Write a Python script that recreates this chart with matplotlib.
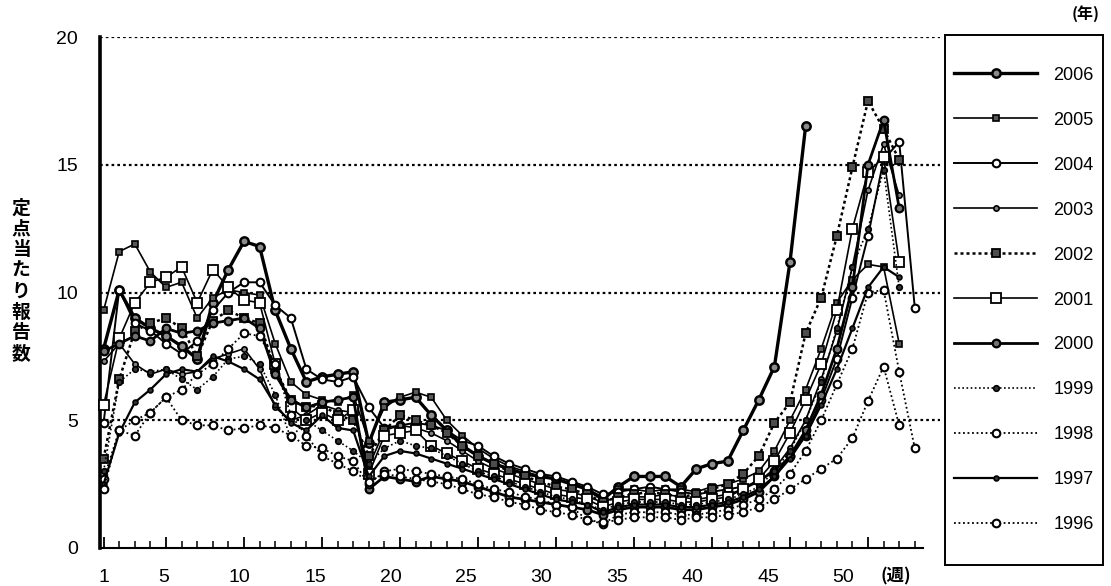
import matplotlib
matplotlib.use("Agg")
import matplotlib.pyplot as plt
from matplotlib.lines import Line2D
import matplotlib.transforms as mtransforms

plt.rcParams['font.family'] = ['Liberation Sans', 'Noto Sans CJK JP', 'DejaVu Sans']

years = ['2006', '2005', '2004', '2003', '2002', '2001', '2000', '1999', '1998', '1997', '1996']

v2006 = [7.8, 10.1, 9.0, 8.6, 8.3, 7.9, 7.4, 9.6, 10.9, 12.0, 11.8, 9.3, 7.8, 6.5, 6.7, 6.8, 6.9, 4.1, 5.7, 5.8,
         5.9, 5.2, 4.6, 4.0, 3.6, 3.3, 3.1, 2.9, 2.8, 2.7, 2.5, 2.3, 1.9, 2.4, 2.8, 2.8, 2.8, 2.4, 3.1, 3.3,
         3.4, 4.6, 5.8, 7.1, 11.2, 16.5]
v2005 = [9.3, 11.6, 11.9, 10.8, 10.2, 10.4, 9.0, 9.8, 10.1, 10.0, 9.9, 8.0, 6.5, 6.0, 5.8, 5.7, 6.0, 4.2, 5.5, 5.9,
         6.1, 5.9, 5.0, 4.4, 3.9, 3.5, 3.2, 3.0, 2.8, 2.7, 2.5, 2.3, 2.0, 2.3, 2.3, 2.2, 2.3, 2.3, 2.2, 2.4,
         2.5, 2.7, 3.0, 3.8, 5.0, 6.2, 7.8, 9.6, 10.5, 11.1, 11.0, 8.0]
v2004 = [4.9, 10.1, 8.8, 8.5, 8.0, 7.6, 8.1, 9.3, 10.0, 10.4, 10.4, 9.5, 9.0, 7.0, 6.6, 6.5, 6.7, 5.5, 4.7, 4.8,
         4.9, 4.8, 4.6, 4.2, 4.0, 3.6, 3.3, 3.1, 2.9, 2.8, 2.6, 2.4, 2.1, 2.2, 2.3, 2.4, 2.3, 2.2, 2.1, 2.2,
         2.3, 2.4, 2.6, 3.0, 3.6, 4.4, 5.8, 7.4, 9.8, 12.2, 15.2, 15.9, 9.4]
v2003 = [7.3, 8.0, 7.2, 6.8, 7.0, 6.8, 6.9, 7.4, 7.6, 7.8, 7.0, 5.5, 5.0, 5.2, 5.6, 5.4, 5.3, 3.2, 4.6, 4.8,
         4.7, 4.5, 4.2, 3.8, 3.4, 3.1, 2.9, 2.7, 2.5, 2.3, 2.2, 2.0, 1.8, 2.0, 2.0, 2.0, 2.1, 2.0, 1.9, 2.0,
         2.1, 2.3, 2.6, 3.1, 3.9, 5.0, 6.6, 8.5, 11.0, 14.0, 15.8, 13.8]
v2002 = [3.5, 6.6, 8.5, 8.8, 9.0, 8.6, 7.5, 8.9, 9.3, 9.0, 8.8, 7.0, 5.8, 5.5, 5.6, 5.2, 5.0, 3.6, 4.6, 5.2,
         5.0, 4.8, 4.5, 4.0, 3.6, 3.3, 3.0, 2.8, 2.6, 2.4, 2.3, 2.1, 1.8, 2.0, 2.1, 2.2, 2.1, 2.0, 2.1, 2.3,
         2.5, 2.9, 3.6, 4.9, 5.7, 8.4, 9.8, 12.2, 14.9, 17.5, 16.4, 15.2]
v2001 = [5.6, 8.2, 9.6, 10.4, 10.6, 11.0, 9.6, 10.9, 10.2, 9.7, 9.6, 7.2, 5.5, 5.0, 5.3, 5.0, 5.4, 2.9, 4.4, 4.5,
         4.6, 4.0, 3.7, 3.4, 3.1, 2.9, 2.7, 2.5, 2.3, 2.1, 2.0, 1.9, 1.6, 1.8, 1.9, 1.9, 1.9, 1.8, 1.8, 1.9,
         2.0, 2.3, 2.7, 3.4, 4.5, 5.8, 7.2, 9.3, 12.5, 14.7, 15.3, 11.2]
v2000 = [7.7, 8.0, 8.3, 8.1, 8.6, 8.4, 8.5, 8.8, 8.9, 9.0, 8.6, 6.8, 5.8, 5.5, 5.7, 5.8, 5.9, 2.3, 2.8, 2.7,
         2.6, 2.8, 2.7, 2.6, 2.4, 2.2, 2.0, 1.9, 1.8, 1.7, 1.6, 1.5, 1.3, 1.5, 1.6, 1.6, 1.6, 1.5, 1.5, 1.6,
         1.7, 1.9, 2.2, 2.8, 3.6, 4.6, 6.0, 7.8, 10.2, 15.0, 16.75, 13.3]
v1999 = [3.0, 6.5, 7.0, 6.9, 7.0, 6.6, 6.2, 6.7, 7.4, 7.5, 7.2, 6.0, 4.3, 5.0, 4.6, 4.2, 3.8, 3.3, 3.9, 4.2,
         4.0, 3.9, 3.6, 3.3, 3.0, 2.8, 2.6, 2.4, 2.2, 2.0, 1.9, 1.7, 1.5, 1.7, 1.8, 1.8, 1.8, 1.7, 1.7, 1.8,
         1.9, 2.1, 2.4, 3.0, 3.8, 5.0, 6.5, 8.6, 11.0, 12.5, 14.8, 10.2]
v1998 = [2.7, 4.6, 4.4, 5.3, 5.9, 5.0, 4.8, 4.8, 4.6, 4.7, 4.8, 4.7, 4.4, 4.0, 3.9, 3.6, 3.4, 2.5, 3.0, 3.1,
         3.0, 2.9, 2.8, 2.7, 2.5, 2.3, 2.2, 2.0, 1.9, 1.7, 1.6, 1.1, 0.95, 1.3, 1.4, 1.4, 1.4, 1.3, 1.3, 1.4,
         1.5, 1.7, 1.9, 2.3, 2.9, 3.8, 5.0, 6.4, 7.8, 10.0, 10.1, 6.9, 3.9]
v1997 = [2.5, 4.5, 5.7, 6.2, 6.8, 7.0, 6.9, 7.5, 7.3, 7.0, 6.6, 5.6, 4.9, 4.6, 5.2, 4.7, 4.6, 2.8, 3.6, 3.8,
         3.7, 3.5, 3.3, 3.1, 2.9, 2.7, 2.5, 2.3, 2.1, 1.9, 1.8, 1.7, 1.4, 1.6, 1.7, 1.7, 1.7, 1.6, 1.6, 1.7,
         1.8, 2.0, 2.3, 2.8, 3.5, 4.4, 5.6, 7.0, 8.6, 10.2, 11.0, 10.6]
v1996 = [2.3, 4.6, 5.0, 5.3, 5.9, 6.2, 6.8, 7.2, 7.8, 8.4, 8.3, 7.2, 5.2, 4.4, 3.6, 3.3, 3.0, 2.6, 2.9, 2.8,
         2.7, 2.6, 2.5, 2.3, 2.1, 2.0, 1.8, 1.7, 1.5, 1.4, 1.3, 1.1, 1.0, 1.1, 1.2, 1.2, 1.2, 1.1, 1.2, 1.2,
         1.3, 1.4, 1.6, 1.9, 2.3, 2.7, 3.1, 3.5, 4.3, 5.75, 7.1, 4.8]

series = [v2006, v2005, v2004, v2003, v2002, v2001, v2000, v1999, v1998, v1997, v1996]

xtick_labels = ['1', '5', '10', '15', '20', '25', '30', '35', '40', '45', '50']
ytick_values = [0, 5, 10, 15, 20]

styles = {
    '2006': dict(ls='-', lw=2.4, marker='o', ms=6, mfc='0.55', mew=1.8),
    '2005': dict(ls='-', lw=1.2, marker='s', ms=4.5, mfc='0.35', mew=1.2),
    '2004': dict(ls='-', lw=1.4, marker='o', ms=5.5, mfc='white', mew=1.5),
    '2003': dict(ls='-', lw=1.2, marker='o', ms=3.8, mfc='0.5', mew=1.2),
    '2002': dict(ls=(0, (1.2, 1.2)), lw=1.8, marker='s', ms=5.5, mfc='0.3', mew=1.3),
    '2001': dict(ls='-', lw=1.2, marker='s', ms=7, mfc='white', mew=1.3),
    '2000': dict(ls='-', lw=2.0, marker='o', ms=5.5, mfc='0.45', mew=1.6),
    '1999': dict(ls=(0, (1, 1.5)), lw=1.2, marker='o', ms=4, mfc='0.2', mew=1.2),
    '1998': dict(ls=(0, (1, 1.5)), lw=1.3, marker='o', ms=5.5, mfc='white', mew=1.5),
    '1997': dict(ls='-', lw=1.6, marker='o', ms=3.5, mfc='0.2', mew=1.2),
    '1996': dict(ls=(0, (1, 1.5)), lw=1.3, marker='o', ms=5.5, mfc='white', mew=1.5),
}

fig = plt.figure(figsize=(11.11, 5.86), dpi=100)
W, H = 1111, 586
ax = fig.add_axes([100 / W, 1 - 548 / H, 840 / W, 511 / H])

x_lo = 1 - 3.6 / 15.6
x_hi = 1 + (940 - 103.6) / 15.6
ax.set_xlim(x_lo, x_hi)
ax.set_ylim(0, 20)

# grid lines
for yv in ytick_values[1:]:
    ax.axhline(yv, color='black', lw=1.6, ls=(0, (1.2, 1.4)), zorder=1)

for yr, vals in zip(years, series):
    st = styles[yr]
    weeks = list(range(1, len(vals) + 1))
    ax.plot(weeks, vals, color='black', linestyle=st['ls'], lw=st['lw'],
            marker=st['marker'], ms=st['ms'], mfc=st['mfc'], mec='black',
            mew=st['mew'], zorder=3, clip_on=False)

for s in ['top', 'right']:
    ax.spines[s].set_visible(False)
ax.spines['left'].set_linewidth(2.6)
ax.spines['bottom'].set_linewidth(1.5)
ax.spines['bottom'].set_bounds(x_lo, 53.5)

# y ticks
ax.set_yticks(ytick_values)
ax.set_yticklabels([str(v) for v in ytick_values], fontsize=14)
ax.tick_params(axis='y', length=0, pad=16)

# x ticks: marks every week, longer at multiples of 5
major_pos = [1, 5, 10, 15, 20, 25, 30, 35, 40, 45, 50]
ax.set_xticks(major_pos)
ax.set_xticklabels([''] * len(major_pos))
ax.set_xticks(list(range(1, 54)), minor=True)
ax.tick_params(axis='x', which='major', direction='in', length=8, width=1.3)
ax.tick_params(axis='x', which='minor', direction='in', length=5, width=1.1)

# x tick label text (original labels drift slightly left of tick marks)
trans = mtransforms.blended_transform_factory(ax.transData, fig.transFigure)
for lab in xtick_labels:
    L = int(lab)
    pos = 1 + (L - 1) * 0.968
    ax.text(pos, 1 - 578 / H, lab, transform=trans, ha='center', va='center', fontsize=14)
fig.text(896 / W, 1 - 576 / H, '(週)', ha='center', va='center', fontsize=12.5,
         family=['Noto Sans CJK JP', 'DejaVu Sans'], weight='bold')

# y label, vertical writing
ylabel = '定点当たり報告数'
fig.text(21 / W, 1 - 281 / H, '\n'.join(ylabel), ha='center', va='center', fontsize=13.5,
         family=['Noto Sans CJK JP', 'DejaVu Sans'], weight='bold', linespacing=1.12)

# (年)
fig.text(1086 / W, 1 - 14 / H, '(年)', ha='center', va='center', fontsize=11.5,
         family=['Noto Sans CJK JP', 'DejaVu Sans'], weight='bold')

# legend box
lax = fig.add_axes([945 / W, 1 - 565 / H, 158 / W, 530 / H])
lax.set_xticks([])
lax.set_yticks([])
for s in lax.spines.values():
    s.set_linewidth(1.4)
leg_handles = []
for yr in years:
    st = styles[yr]
    leg_handles.append(Line2D([0], [0], color='black', linestyle=st['ls'], lw=st['lw'],
                              marker=st['marker'], ms=st['ms'], mfc=st['mfc'], mec='black',
                              mew=st['mew']))
lax.legend(leg_handles, years, loc='center', frameon=False, fontsize=13,
           handlelength=4.6, handletextpad=0.9, labelspacing=1.55, numpoints=1,
           borderpad=0.2)

fig.savefig('out.png', dpi=100)
